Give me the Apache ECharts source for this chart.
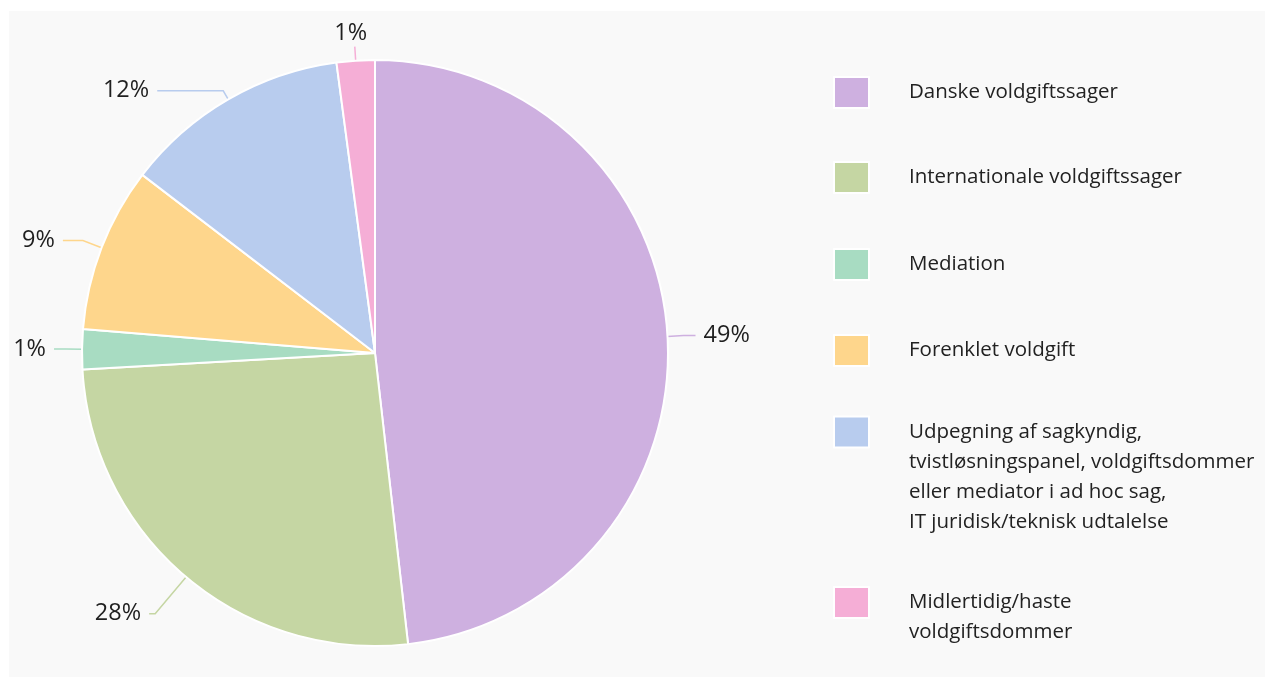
<!DOCTYPE html>
<html>
<head>
<meta charset="utf-8">
<script src="https://cdn.jsdelivr.net/npm/echarts@6/dist/echarts.min.js"></script>
<style>
  html, body { margin: 0; padding: 0; background: #ffffff; }
  #chart { width: 1273px; height: 686px; }
</style>
</head>
<body>
<div id="chart"></div>
<script>
const categories = [
  'Danske voldgiftssager',
  'Internationale voldgiftssager',
  'Mediation',
  'Forenklet voldgift',
  'Udpegning af sagkyndig,\ntvistløsningspanel, voldgiftsdommer\neller mediator i ad hoc sag,\nIT juridisk/teknisk udtalelse',
  'Midlertidig/haste\nvoldgiftsdommer'
];
const values = [48.2, 25.9, 2.2, 9.1, 12.5, 2.1];
const shareLabels = ['49%', '28%', '1%', '9%', '12%', '1%'];

// styling (kept apart from the data)
const colors = ['#ceb0e0', '#c5d6a3', '#a8dcc2', '#fed68c', '#b8ccee', '#f5aed6'];
const lineLengths = [[16, 12], [48, 6], [16, 12], [20, 20], [10, 66], [14, 0]];
const FONT = '"Open Sans", Lato, sans-serif';
const LEGEND_LH = 30;
const legendCenters = [91.5, 176.5, 263.5, 349.5, 432, 602.5];

const legends = categories.map((name, i) => {
  const n = name.split('\n').length;
  const half = n === 1 ? 15.5 : (2 * n - 1) * LEGEND_LH / 2;
  return {
    orient: 'vertical',
    left: 833,
    top: legendCenters[i] - half,
    padding: 0,
    itemWidth: 35,
    itemHeight: 31,
    icon: 'rect',
    selectedMode: false,
    data: [name],
    formatter: nm => '\n'.repeat(n - 1) + nm,
    textStyle: {
      fontFamily: FONT,
      fontSize: 20.5,
      lineHeight: LEGEND_LH,
      color: '#222222',
      padding: [0, 0, 0, 35]
    }
  };
});

const chart = echarts.init(document.getElementById('chart'), null, { renderer: 'canvas' });
chart.setOption({
  backgroundColor: '#ffffff',
  animation: false,
  color: colors,
  graphic: [{
    type: 'rect',
    z: -10,
    silent: true,
    shape: { x: 9, y: 11, width: 1256, height: 666 },
    style: { fill: '#f9f9f9' }
  }],
  legend: legends,
  series: [{
    type: 'pie',
    center: [375, 353],
    radius: 293,
    startAngle: 90,
    clockwise: true,
    avoidLabelOverlap: false,
    itemStyle: { borderColor: '#ffffff', borderWidth: 2 },
    label: {
      show: true,
      position: 'outside',
      fontFamily: FONT,
      fontSize: 23.5,
      color: '#1f1f1f',
      distanceToLabelLine: 8,
      formatter: p => shareLabels[p.dataIndex]
    },
    labelLine: {
      show: true,
      length: 16,
      length2: 12,
      lineStyle: { width: 1.5 }
    },
    labelLayout: function (params) {
      if (params.dataIndex !== 5 || !params.labelLinePoints) return;
      const p = params.labelLinePoints;
      const end = p[1];
      return {
        x: end[0] - 4,
        y: end[1] - 1,
        align: 'center',
        verticalAlign: 'bottom',
        labelLinePoints: [p[0], end, end]
      };
    },
    data: categories.map((name, i) => ({
      name: name,
      value: values[i],
      labelLine: { length: lineLengths[i][0], length2: lineLengths[i][1] }
    }))
  }]
});
</script>
</body>
</html>
